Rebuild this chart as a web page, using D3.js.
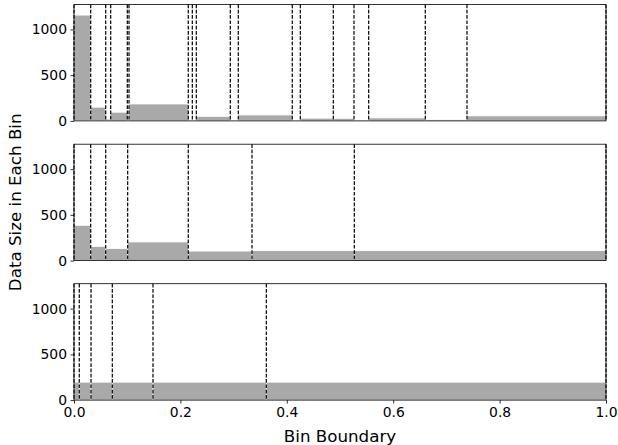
<!DOCTYPE html>
<html><head><meta charset="utf-8">
<script src="https://cdn.jsdelivr.net/npm/d3@7"></script>
<style>
body{margin:0;background:#fff;}
svg{display:block;font-family:"DejaVu Sans",sans-serif;}
</style></head>
<body>
<svg id="chart" width="618" height="445"></svg>
<script>
// ---- data ----
const topBounds = [0, 0.0314, 0.0596, 0.069, 0.1002, 0.1034, 0.2148, 0.2224, 0.2299, 0.2938, 0.3088, 0.4103, 0.4254, 0.4874, 0.5263, 0.5539, 0.6603, 0.7387, 1.0];
const topCounts = [1157, 150, 20, 95, 30, 185, 10, 10, 50, 5, 65, 5, 30, 28, 10, 33, 15, 55];
const midBounds = [0, 0.0314, 0.0596, 0.1009, 0.2148, 0.3346, 0.5269, 1.0];
const midCounts = [386, 155, 133, 204, 104, 109, 109];
const botBounds = [0, 0.0099, 0.032, 0.072, 0.1485, 0.3615, 1.0];
const botCounts = [196, 196, 196, 196, 196, 196];
const yTicks = [0, 500, 1000];
const xTicks = [0, 0.2, 0.4, 0.6, 0.8, 1.0];
const xLabel = "Bin Boundary";
const yLabel = "Data Size in Each Bin";

const panels = [
  {bounds: topBounds, counts: topCounts},
  {bounds: midBounds, counts: midCounts},
  {bounds: botBounds, counts: botCounts}
];

// ---- layout ----
const svg = d3.select("#chart");
const left = 74, right = 606;
const panelTops = [4.5, 144.2, 283.7];
const panelH = 116.4;
const fontPx = 13.9;
const labelPx = 16.7;
const yMax = 1.1 * d3.max(panels.flatMap(p => p.counts));

const x = d3.scaleLinear().domain([0, 1]).range([left, right]);

panels.forEach((p, i) => {
  const top = panelTops[i], bottom = top + panelH;
  const y = d3.scaleLinear().domain([0, yMax]).range([bottom, top]);
  const g = svg.append("g");
  const bins = p.counts.map((c, k) => ({x0: p.bounds[k], x1: p.bounds[k + 1], c}));

  g.selectAll("rect.bar").data(bins).join("rect")
    .attr("class", "bar")
    .attr("x", d => x(d.x0))
    .attr("width", d => Math.max(0, x(d.x1) - x(d.x0)))
    .attr("y", d => y(d.c))
    .attr("height", d => y(0) - y(d.c))
    .attr("fill", "#a9a9a9")
    .attr("stroke", "#ffffff")
    .attr("stroke-width", 0.8);

  g.selectAll("line.bound").data(p.bounds).join("line")
    .attr("class", "bound")
    .attr("x1", d => x(d)).attr("x2", d => x(d))
    .attr("y1", top).attr("y2", bottom)
    .attr("stroke", "#000")
    .attr("stroke-width", 1.2)
    .attr("stroke-dasharray", "3.7,1.6");

  // y axis
  const ya = g.append("g").attr("transform", `translate(${left},0)`)
    .call(d3.axisLeft(y).tickValues(yTicks).tickSize(3.5).tickPadding(3.5).tickFormat(d3.format("d")));
  ya.select(".domain").remove();
  ya.selectAll("line").attr("stroke", "#000").attr("stroke-width", 0.8);
  ya.selectAll("text").attr("font-size", fontPx).attr("font-family", "DejaVu Sans").attr("fill", "#000");

  if (i === panels.length - 1) {
    const xa = g.append("g").attr("transform", `translate(0,${bottom})`)
      .call(d3.axisBottom(x).tickValues(xTicks).tickSize(3.5).tickPadding(3.5).tickFormat(d3.format(".1f")));
    xa.select(".domain").remove();
    xa.selectAll("line").attr("stroke", "#000").attr("stroke-width", 0.8);
    xa.selectAll("text").attr("font-size", fontPx).attr("font-family", "DejaVu Sans").attr("fill", "#000");
  }

  // spines
  g.append("rect")
    .attr("x", left).attr("y", top)
    .attr("width", right - left).attr("height", panelH)
    .attr("fill", "none").attr("stroke", "#000").attr("stroke-width", 0.8);
});

svg.append("text")
  .attr("x", (left + right) / 2).attr("y", 442)
  .attr("text-anchor", "middle")
  .attr("font-size", labelPx)
  .text(xLabel);

svg.append("text")
  .attr("transform", `translate(21,${(panelTops[0] + panelTops[2] + panelH) / 2}) rotate(-90)`)
  .attr("text-anchor", "middle")
  .attr("font-size", labelPx)
  .text(yLabel);
</script>
</body></html>
